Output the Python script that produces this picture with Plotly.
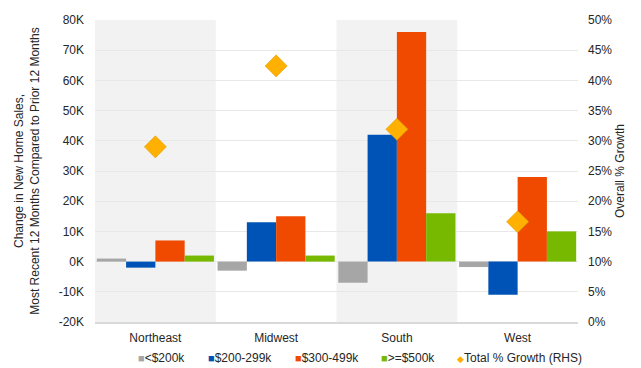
import plotly.graph_objects as go

regions = ["Northeast", "Midwest", "South", "West"]
series_names = ["<$200k", "$200-299k", "$300-499k", ">=$500k"]
under_200k = [1000, -3000, -7000, -1800]
k200_299 = [-2000, 13000, 42000, -11000]
k300_499 = [7000, 15000, 76000, 28000]
k500_plus = [2000, 2000, 16000, 10000]
growth_name = "Total % Growth (RHS)"
total_growth = [29.0, 42.4, 31.9, 16.6]

left_tick_vals = [-20000, -10000, 0, 10000, 20000, 30000, 40000, 50000, 60000, 70000, 80000]
left_tick_text = ["-20K", "-10K", "0K", "10K", "20K", "30K", "40K", "50K", "60K", "70K", "80K"]
right_tick_vals = [0, 5, 10, 15, 20, 25, 30, 35, 40, 45, 50]
right_tick_text = ["0%", "5%", "10%", "15%", "20%", "25%", "30%", "35%", "40%", "45%", "50%"]

colors = ["#A6A6A6", "#0053B6", "#EF4A00", "#77B900"]
diamond_color = "#FFB000"
font_family = "Liberation Sans, Arial, sans-serif"
text_color = "#262626"

fig = go.Figure()
for name, vals, c in zip(series_names, [under_200k, k200_299, k300_499, k500_plus], colors):
    fig.add_trace(go.Bar(x=regions, y=vals, name=name, marker=dict(color=c, line=dict(width=0))))

fig.add_trace(go.Scatter(
    x=regions, y=total_growth, name=growth_name, mode="markers",
    marker=dict(symbol="diamond", size=17, color=diamond_color,
                line=dict(width=0.5, color="#D99600")),
    yaxis="y2"))

shapes = []
for i, r in enumerate(regions):
    if i % 2 == 0:
        shapes.append(dict(type="rect", xref="x", yref="paper", x0=i - 0.5, x1=i + 0.5,
                           y0=0, y1=1, fillcolor="#F2F2F2", line=dict(width=0), layer="below"))

# legend drawn as text annotations to match the compact original layout
legend_x = [0.084, 0.229, 0.409, 0.587, 0.746]
legend_entries = list(zip(series_names, colors, ["■"] * 4)) + [(growth_name, diamond_color, "◆")]
annotations = []
for (name, c, sym), lx in zip(legend_entries, legend_x):
    safe = name.replace("<", "&lt;").replace(">", "&gt;")
    sym_size = 11 if sym == "■" else 9
    annotations.append(dict(
        xref="paper", yref="paper", x=lx, y=-0.118, xanchor="left", yanchor="middle",
        showarrow=False,
        text=f"<span style='color:{c};font-size:{sym_size}px'>{sym}</span>{safe}",
        font=dict(size=12, color=text_color)))

fig.update_layout(
    width=641, height=368,
    margin=dict(l=95, r=63, t=20, b=46, autoexpand=False),
    paper_bgcolor="white", plot_bgcolor="white",
    font=dict(family=font_family, size=12, color=text_color),
    barmode="group", bargap=0.03, bargroupgap=0,
    shapes=shapes, annotations=annotations,
    showlegend=False,
    xaxis=dict(range=[-0.5, 3.5], showline=True, linecolor="#D9D9D9", linewidth=1.5,
               ticks="", tickfont=dict(size=12, color=text_color), showgrid=False,
               ticklabelstandoff=4),
    yaxis=dict(range=[-20000, 80000], tickvals=left_tick_vals, ticktext=left_tick_text,
               showgrid=True, gridcolor="#E8E8E8", gridwidth=1, zeroline=False,
               tickfont=dict(size=12, color=text_color), ticklabelstandoff=10,
               title=dict(text="Change in New Home Sales,<br>Most Recent 12 Months Compared to Prior 12 Months",
                          font=dict(size=12, color=text_color), standoff=16)),
    yaxis2=dict(range=[0, 50], tickvals=right_tick_vals, ticktext=right_tick_text, overlaying="y",
                side="right", showgrid=False, zeroline=False,
                tickfont=dict(size=12, color=text_color), ticklabelstandoff=9,
                title=dict(text="Overall % Growth", font=dict(size=12, color=text_color), standoff=4)),
)

fig.write_html("out.html")
